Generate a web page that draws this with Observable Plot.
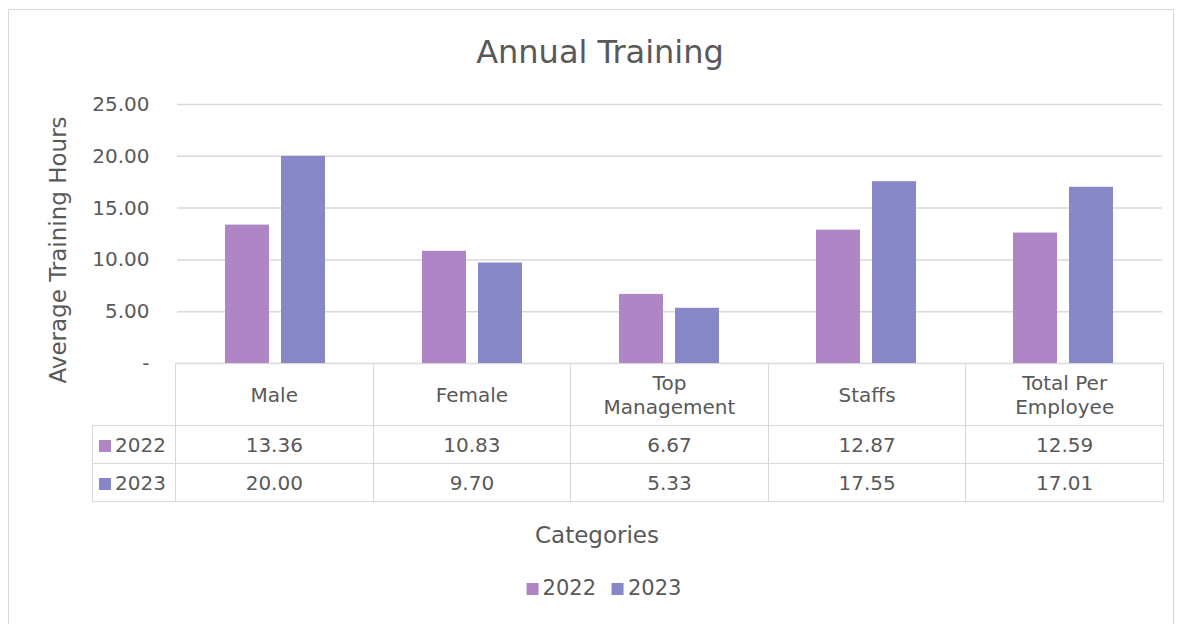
<!DOCTYPE html>
<html><head><meta charset="utf-8">
<script src="https://cdn.jsdelivr.net/npm/d3@7"></script>
<script src="https://cdn.jsdelivr.net/npm/@observablehq/plot@0.6"></script>
<style>
body{margin:0;background:#fff;font-family:"DejaVu Sans",sans-serif;color:#595959}
#wrap{position:relative;width:1184px;height:624px;overflow:hidden;background:#fff}
#frame{position:absolute;left:8px;top:9px;width:1166px;height:640px;border:1.5px solid #d9d9d9;box-sizing:border-box}
#title{position:absolute;left:600px;top:52px;transform:translate(-50%,-50%);font-size:32px;white-space:nowrap}
#ylab{position:absolute;left:58px;top:250px;transform:translate(-50%,-50%) rotate(-90deg);font-size:23px;white-space:nowrap}
#xlab{position:absolute;left:597px;top:535px;transform:translate(-50%,-50%);font-size:23px;white-space:nowrap}
#legend{position:absolute;left:604px;top:588px;transform:translate(-50%,-50%);font-size:21px;white-space:nowrap;display:flex;gap:16px;align-items:center}
#legend span.k{display:inline-block;width:12px;height:12px;margin-right:4px}
#chart{position:absolute;left:0;top:0}
#tbl{position:absolute;left:92px;top:363px;border-collapse:collapse;table-layout:fixed;font-size:20px}
#tbl td{border:1.5px solid #d9d9d9;text-align:center;padding:0;line-height:24px}
#tbl td.lab{text-align:left;padding-left:6px;white-space:nowrap}
#tbl td.lab span{display:inline-block;width:12px;height:12px;margin-right:4px}
</style></head>
<body><div id="wrap">
<div id="frame"></div>
<div id="title">Annual Training</div>
<div id="ylab">Average Training Hours</div>
<div id="chart"></div>
<table id="tbl"></table>
<div id="xlab">Categories</div>
<div id="legend"></div>
</div>
<script>
const categories = ["Male", "Female", "Top Management", "Staffs", "Total Per Employee"];
const categoryLines = [["Male"], ["Female"], ["Top", "Management"], ["Staffs"], ["Total Per", "Employee"]];
const years = ["2022", "2023"];
const values2022 = [13.36, 10.83, 6.67, 12.87, 12.59];
const values2023 = [20.00, 9.70, 5.33, 17.55, 17.01];
const colors = ["#b085c5", "#8887c7"];
const yTicks = [0, 5, 10, 15, 20, 25];

const series = {"2022": values2022, "2023": values2023};
const data = [];
categories.forEach((c, i) => years.forEach(y => data.push({category: c, year: y, value: series[y][i]})));

const fmt = d => d === 0 ? "-" : d.toFixed(2);

const chart = Plot.plot({
  width: 1184, height: 400,
  marginTop: 104, marginBottom: 37, marginLeft: 175, marginRight: 21,
  style: {fontFamily: "DejaVu Sans, sans-serif", fontSize: "20px", color: "#595959", background: "transparent"},
  fx: {domain: categories, padding: 0, axis: null, label: null},
  x: {domain: years, paddingInner: 0.214, paddingOuter: 0.85, axis: null, label: null},
  y: {domain: [0, 25], ticks: yTicks, tickFormat: fmt, tickSize: 0, tickPadding: 28, label: null},
  color: {domain: years, range: colors},
  marks: [
    Plot.gridY(yTicks, {stroke: "#d9d9d9", strokeOpacity: 1, strokeWidth: 1.5}),
    Plot.barY(data, {fx: "category", x: "year", y: "value", fill: "year"})
  ]
});
document.getElementById("chart").appendChild(chart);

// data table
const tbl = document.getElementById("tbl");
const colW = (1163 - 175) / categories.length;
let html = `<colgroup><col style="width:83px">${categories.map(() => `<col style="width:${colW}px">`).join("")}</colgroup>`;
html += `<tr style="height:62px"><td style="border-left:none;border-top:none;border-bottom-width:1.5px"></td>${categoryLines.map(l => `<td>${l.join("<br>")}</td>`).join("")}</tr>`;
years.forEach((y, yi) => {
  html += `<tr style="height:38px"><td class="lab"><span style="background:${colors[yi]}"></span>${y}</td>${series[y].map(v => `<td>${v.toFixed(2)}</td>`).join("")}</tr>`;
});
tbl.innerHTML = html;

document.getElementById("legend").innerHTML = years.map((y, i) => `<div><span class="k" style="background:${colors[i]}"></span>${y}</div>`).join("");
</script>
</body></html>
